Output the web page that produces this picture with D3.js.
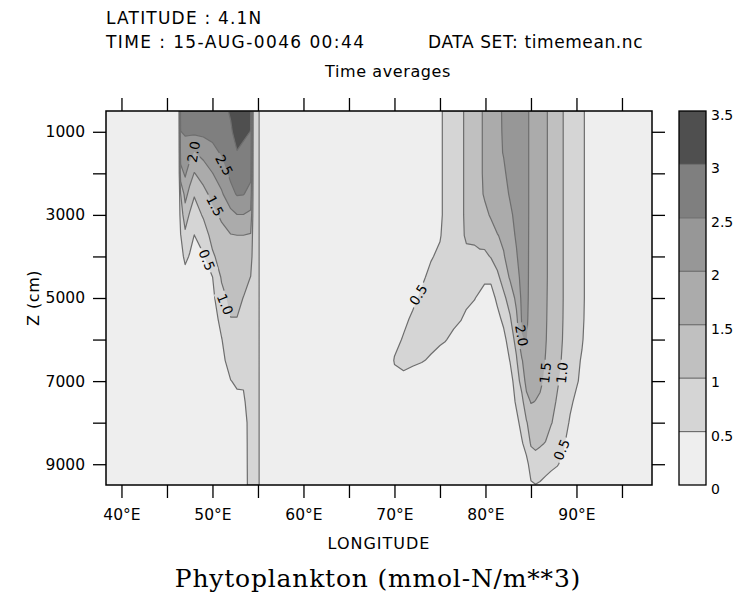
<!DOCTYPE html>
<html>
<head>
<meta charset="utf-8">
<script src="https://cdn.jsdelivr.net/npm/d3@7"></script>
<style>
  body { margin: 0; background: #ffffff; }
  svg text { fill: #000; }
  .sans { font-family: "DejaVu Sans", "Liberation Sans", sans-serif; }
  .serif { font-family: "DejaVu Serif", "Liberation Serif", serif; }
</style>
</head>
<body>
<svg id="chart" width="742" height="596"></svg>
<script>
// ---- data: time-mean phytoplankton section along 4.1N (mmol-N/m**3) ----
const depthLevels = [500,1000,1500,2000,2500,3000,3500,4000,4500,5000,5500,6000,6500,7000,7500,8000,8500,9000,9500];

// western basin columns (longitude, then one value per depth level)
const westLons = [46.5, 47.0, 47.5, 48.0, 49.0, 50.0, 51.0, 52.0, 52.7, 53.4, 54.2, 54.5, 55.05];
const westValues = [
  [2.75,2.49,2.22,1.83,0.99,0.75,0.48,0.30,0.20,0.15,0.12,0.10,0.10,0.10,0.10,0.10,0.10,0.10,0.10],
  [2.80,2.55,2.31,2.07,1.68,1.25,0.89,0.63,0.30,0.15,0.10,0.10,0.10,0.10,0.10,0.10,0.10,0.10,0.10],
  [2.80,2.57,2.18,1.75,1.33,0.95,0.70,0.46,0.25,0.15,0.10,0.10,0.10,0.10,0.10,0.10,0.10,0.10,0.10],
  [2.85,2.59,1.98,1.48,1.04,0.75,0.49,0.34,0.20,0.15,0.10,0.10,0.10,0.10,0.10,0.10,0.10,0.10,0.10],
  [2.85,2.61,2.17,1.71,1.35,1.06,0.73,0.46,0.33,0.20,0.15,0.10,0.10,0.10,0.10,0.10,0.10,0.10,0.10],
  [2.90,2.65,2.36,1.99,1.64,1.38,1.17,0.92,0.49,0.38,0.25,0.20,0.15,0.10,0.10,0.10,0.10,0.10,0.10],
  [2.85,2.70,2.55,2.27,1.93,1.57,1.37,1.21,1.05,0.86,0.66,0.48,0.39,0.30,0.25,0.20,0.15,0.12,0.10],
  [3.05,2.94,2.77,2.61,2.35,1.85,1.47,1.35,1.23,1.12,0.99,0.83,0.67,0.49,0.40,0.30,0.27,0.23,0.20],
  [3.35,3.17,2.98,2.76,2.54,1.99,1.49,1.37,1.24,1.12,0.99,0.85,0.70,0.55,0.42,0.30,0.27,0.23,0.20],
  [3.30,3.09,2.89,2.70,2.52,1.99,1.49,1.33,1.17,0.99,0.89,0.78,0.67,0.56,0.42,0.25,0.23,0.22,0.20],
  [3.10,2.99,2.81,2.62,2.33,1.90,1.45,1.23,0.99,0.90,0.80,0.78,0.77,0.76,0.76,0.75,0.75,0.75,0.75],
  [0.75,0.75,0.75,0.75,0.75,0.75,0.75,0.75,0.75,0.75,0.75,0.75,0.75,0.75,0.75,0.75,0.75,0.75,0.75],
  [0.75,0.75,0.75,0.75,0.75,0.75,0.75,0.75,0.75,0.75,0.75,0.75,0.75,0.75,0.75,0.75,0.75,0.75,0.75]
];

// eastern basin columns
const eastLons = [70.0, 71.0, 72.0, 73.0, 74.0, 75.0, 75.6, 76.5, 77.3, 77.9, 78.8, 79.4, 79.9, 80.6, 81.3,
                  82.0, 82.7, 83.4, 84.0, 84.5, 85.0, 85.5, 86.0, 86.6, 87.2, 87.9, 88.6, 89.3, 90.0, 90.6, 91.2];
const eastValues = [
  [0.10,0.10,0.10,0.10,0.10,0.10,0.10,0.10,0.10,0.10,0.10,0.30,0.55,0.30,0.10,0.10,0.10,0.10,0.10],
  [0.10,0.10,0.10,0.10,0.10,0.10,0.10,0.10,0.10,0.10,0.35,0.56,0.60,0.40,0.20,0.10,0.10,0.10,0.10],
  [0.10,0.10,0.10,0.10,0.10,0.10,0.10,0.10,0.10,0.35,0.60,0.62,0.58,0.30,0.15,0.10,0.10,0.10,0.10],
  [0.15,0.15,0.15,0.15,0.15,0.15,0.15,0.15,0.40,0.62,0.65,0.63,0.53,0.25,0.12,0.10,0.10,0.10,0.10],
  [0.20,0.20,0.20,0.20,0.20,0.20,0.30,0.45,0.65,0.68,0.68,0.62,0.45,0.20,0.12,0.10,0.10,0.10,0.10],
  [0.35,0.35,0.35,0.35,0.35,0.35,0.45,0.62,0.70,0.70,0.68,0.58,0.30,0.15,0.10,0.10,0.10,0.10,0.10],
  [0.70,0.70,0.70,0.70,0.70,0.70,0.72,0.75,0.75,0.72,0.66,0.52,0.30,0.15,0.10,0.10,0.10,0.10,0.10],
  [0.80,0.80,0.80,0.80,0.80,0.80,0.85,0.85,0.82,0.75,0.60,0.40,0.20,0.15,0.10,0.10,0.10,0.10,0.10],
  [0.90,0.90,0.90,0.90,0.90,0.90,0.92,0.88,0.82,0.70,0.52,0.30,0.15,0.10,0.10,0.10,0.10,0.10,0.10],
  [1.10,1.10,1.10,1.10,1.10,1.10,1.05,0.92,0.80,0.62,0.40,0.20,0.12,0.10,0.10,0.10,0.10,0.10,0.10],
  [1.30,1.30,1.30,1.30,1.30,1.25,1.10,0.88,0.70,0.52,0.30,0.15,0.10,0.10,0.10,0.10,0.10,0.10,0.10],
  [1.40,1.40,1.40,1.40,1.40,1.30,1.15,0.92,0.70,0.40,0.20,0.12,0.10,0.10,0.10,0.10,0.10,0.10,0.10],
  [1.60,1.60,1.60,1.60,1.55,1.38,1.20,0.90,0.60,0.30,0.15,0.10,0.10,0.10,0.10,0.10,0.10,0.10,0.10],
  [1.75,1.75,1.75,1.75,1.70,1.55,1.30,1.03,0.60,0.30,0.20,0.12,0.10,0.10,0.10,0.10,0.10,0.10,0.10],
  [1.90,1.90,1.90,1.90,1.82,1.68,1.48,1.20,0.90,0.60,0.35,0.20,0.12,0.10,0.10,0.10,0.10,0.10,0.10],
  [2.05,2.04,2.02,1.94,1.82,1.70,1.58,1.47,1.20,0.90,0.62,0.35,0.20,0.12,0.10,0.10,0.10,0.10,0.10],
  [2.20,2.20,2.20,2.12,2.05,1.90,1.80,1.68,1.56,1.20,0.95,0.75,0.52,0.30,0.20,0.12,0.10,0.10,0.10],
  [2.30,2.30,2.30,2.30,2.25,2.15,2.06,1.95,1.80,1.62,1.40,1.15,0.95,0.75,0.58,0.35,0.20,0.12,0.10],
  [2.35,2.35,2.35,2.35,2.35,2.35,2.30,2.25,2.17,2.10,2.05,1.98,1.45,1.20,0.85,0.68,0.45,0.25,0.15],
  [2.15,2.15,2.15,2.15,2.15,2.15,2.14,2.13,2.12,2.10,2.07,2.02,1.85,1.65,1.35,0.95,0.70,0.35,0.20],
  [1.85,1.85,1.85,1.85,1.85,1.85,1.85,1.85,1.85,1.85,1.84,1.82,1.75,1.65,1.52,1.25,1.05,0.70,0.45],
  [1.75,1.75,1.75,1.75,1.75,1.75,1.75,1.75,1.75,1.75,1.74,1.73,1.70,1.62,1.49,1.35,1.10,0.80,0.49],
  [1.65,1.65,1.65,1.65,1.65,1.65,1.65,1.65,1.65,1.65,1.64,1.62,1.60,1.56,1.45,1.30,1.05,0.75,0.45],
  [1.55,1.55,1.55,1.55,1.55,1.55,1.55,1.55,1.55,1.54,1.53,1.52,1.49,1.44,1.35,1.20,0.98,0.70,0.35],
  [1.40,1.40,1.40,1.40,1.40,1.40,1.40,1.40,1.40,1.40,1.40,1.38,1.35,1.28,1.15,1.03,0.80,0.60,0.30],
  [1.22,1.22,1.22,1.22,1.22,1.22,1.22,1.22,1.22,1.22,1.22,1.20,1.15,1.05,0.95,0.85,0.70,0.52,0.30],
  [0.98,0.98,0.98,0.98,0.98,0.98,0.98,0.98,0.98,0.98,0.97,0.95,0.90,0.85,0.78,0.70,0.55,0.42,0.25],
  [0.85,0.85,0.85,0.85,0.85,0.85,0.85,0.85,0.85,0.85,0.84,0.82,0.76,0.68,0.58,0.45,0.30,0.20,0.15],
  [0.75,0.75,0.75,0.75,0.75,0.75,0.75,0.75,0.75,0.75,0.73,0.68,0.62,0.55,0.40,0.25,0.15,0.10,0.10],
  [0.62,0.62,0.62,0.62,0.62,0.62,0.62,0.62,0.62,0.62,0.60,0.55,0.45,0.40,0.25,0.15,0.10,0.10,0.10],
  [0.35,0.35,0.35,0.35,0.35,0.35,0.35,0.35,0.35,0.35,0.33,0.30,0.25,0.20,0.15,0.10,0.10,0.10,0.10]
];

// open-ocean longitudes between and around the two regions, with their background value
const backgroundLons = [38.3, 46.3, 55.25, 69.3, 91.8, 98.3];
const backgroundValue = 0.1;

const contourLevels = [0.5, 1.0, 1.5, 2.0, 2.5, 3.0];
const colorbarLevels = [0, 0.5, 1, 1.5, 2, 2.5, 3, 3.5];
const bandColors = ["#eeeeee", "#d5d5d5", "#c0c0c0", "#ababab", "#979797", "#7f7f7f", "#4f4f4f"];

const lonTicks = [40, 45, 50, 55, 60, 65, 70, 75, 80, 85, 90, 95];
const lonLabels = [40, 50, 60, 70, 80, 90];
const depthTicks = [1000, 2000, 3000, 4000, 5000, 6000, 7000, 8000, 9000];
const depthLabels = [1000, 3000, 5000, 7000, 9000];

// contour annotations: level, where it sits (lon, depth) and its text angle
const contourLabelLevels = [2.0, 2.5, 1.5, 0.5, 1.0, 0.5, 2.0, 1.5, 1.0, 0.5];
const contourLabelLons   = [47.9, 51.3, 50.3, 49.4, 51.4, 72.6, 84.0, 86.55, 88.4, 88.35];
const contourLabelDepths = [1480, 1800, 2780, 4080, 5150, 4920, 5900, 6800, 6800, 8650];
const contourLabelAngles = [-80, 62, 62, 68, 68, -58, 80, -84, -84, -68];

// ---- layout ----
const svg = d3.select("#chart");
const x = d3.scaleLinear().domain([38.3, 98.3]).range([106, 652]);
const y = d3.scaleLinear().domain([500, 9500]).range([111, 485]);
const [x0, x1] = x.range(), [y0, y1] = y.range();

// assemble the grid (columns sorted by longitude)
const cols = [];
westLons.forEach((lon, i) => cols.push({lon, vals: westValues[i]}));
eastLons.forEach((lon, i) => cols.push({lon, vals: eastValues[i]}));
backgroundLons.forEach(lon => cols.push({lon, vals: depthLevels.map(() => backgroundValue)}));
cols.sort((a, b) => a.lon - b.lon);
const lonNodes = cols.map(c => c.lon);
const nx = lonNodes.length, ny = depthLevels.length;
const grid = new Array(nx * ny);
for (let j = 0; j < ny; j++) for (let i = 0; i < nx; i++) grid[j * nx + i] = cols[i].vals[j];

function nodeAt(nodes, t) {
  t = Math.max(0, Math.min(nodes.length - 1, t));
  const i = Math.min(Math.floor(t), nodes.length - 2);
  return nodes[i] + (nodes[i + 1] - nodes[i]) * (t - i);
}
const toScreen = d3.geoTransform({
  point(u, v) {
    this.stream.point(x(nodeAt(lonNodes, u - 0.5)), y(nodeAt(depthLevels, v - 0.5)));
  }
});
const path = d3.geoPath(toScreen);
const contours = d3.contours().size([nx, ny]).thresholds(contourLevels)(grid);

const defs = svg.append("defs");
defs.append("clipPath").attr("id", "plotClip")
  .append("rect").attr("x", x0).attr("y", y0).attr("width", x1 - x0).attr("height", y1 - y0);

// label mask so contour lines break around their labels
const fmt = d3.format(".1f");
const mask = defs.append("mask").attr("id", "labelMask").attr("maskUnits", "userSpaceOnUse")
  .attr("x", 0).attr("y", 0).attr("width", 742).attr("height", 596);
mask.append("rect").attr("width", 742).attr("height", 596).attr("fill", "#fff");
contourLabelLevels.forEach((lev, i) => {
  mask.append("rect")
    .attr("x", -13).attr("y", -7).attr("width", 26).attr("height", 14).attr("fill", "#000")
    .attr("transform", `translate(${x(contourLabelLons[i])},${y(contourLabelDepths[i])}) rotate(${contourLabelAngles[i]})`);
});

const plot = svg.append("g").attr("clip-path", "url(#plotClip)");
plot.append("rect").attr("x", x0).attr("y", y0).attr("width", x1 - x0).attr("height", y1 - y0)
  .attr("fill", bandColors[0]);
plot.selectAll("path.band").data(contours).join("path")
  .attr("class", "band")
  .attr("d", d => path(d))
  .attr("fill", (d, i) => bandColors[i + 1])
  .attr("fill-rule", "evenodd");
plot.append("g").attr("mask", "url(#labelMask)")
  .selectAll("path").data(contours).join("path")
  .attr("d", d => path(d))
  .attr("fill", "none")
  .attr("stroke", "#6e6e6e")
  .attr("stroke-width", 1.2)
  .attr("stroke-linejoin", "round");

plot.selectAll("text.clab").data(contourLabelLevels).join("text")
  .attr("class", "clab sans")
  .attr("transform", (d, i) => `translate(${x(contourLabelLons[i])},${y(contourLabelDepths[i])}) rotate(${contourLabelAngles[i]})`)
  .attr("text-anchor", "middle").attr("dominant-baseline", "central")
  .attr("font-size", 13.5)
  .text(d => fmt(d));

// frame
svg.append("rect").attr("x", x0).attr("y", y0).attr("width", x1 - x0).attr("height", y1 - y0)
  .attr("fill", "none").attr("stroke", "#000").attr("stroke-width", 1.5);

// axes
function styleAxis(g) {
  g.select(".domain").remove();
  g.selectAll(".tick line").attr("stroke", "#000").attr("stroke-width", 1.3);
  g.selectAll(".tick text").attr("class", "sans").attr("font-size", 15.5).attr("fill", "#000");
}
svg.append("g").attr("transform", `translate(0,${y1})`)
  .call(d3.axisBottom(x).tickValues(lonTicks).tickSize(13).tickPadding(11)
    .tickFormat(d => lonLabels.includes(d) ? d + "°E" : ""))
  .call(styleAxis);
svg.append("g").attr("transform", `translate(0,${y0})`)
  .call(d3.axisTop(x).tickValues(lonTicks).tickSize(13).tickFormat(""))
  .call(styleAxis);
svg.append("g").attr("transform", `translate(${x0},0)`)
  .call(d3.axisLeft(y).tickValues(depthTicks).tickSize(13).tickPadding(8)
    .tickFormat(d => depthLabels.includes(d) ? String(d) : ""))
  .call(styleAxis);
svg.append("g").attr("transform", `translate(${x1},0)`)
  .call(d3.axisRight(y).tickValues(depthTicks).tickSize(13).tickFormat(""))
  .call(styleAxis);

// axis titles and headings
const head = svg.append("g").attr("class", "sans");
head.append("text").attr("x", (x0 + x1) / 2).attr("y", 549).attr("text-anchor", "middle")
  .attr("font-size", 16).attr("letter-spacing", 1).text("LONGITUDE");
head.append("text").attr("transform", `translate(39,${(y0 + y1) / 2}) rotate(-90)`)
  .attr("text-anchor", "middle").attr("font-size", 16).attr("letter-spacing", 0.5).text("Z (cm)");
head.append("text").attr("x", 106).attr("y", 24).attr("font-size", 17).attr("letter-spacing", 1.2)
  .text("LATITUDE : 4.1N");
head.append("text").attr("x", 106).attr("y", 48).attr("font-size", 17).attr("letter-spacing", 1.4)
  .text("TIME : 15-AUG-0046 00:44");
head.append("text").attr("x", 428).attr("y", 48).attr("font-size", 17).attr("letter-spacing", 0.6)
  .text("DATA SET: timemean.nc");
head.append("text").attr("x", 388).attr("y", 77).attr("text-anchor", "middle")
  .attr("font-size", 16).attr("letter-spacing", 0.6).text("Time averages");
svg.append("text").attr("class", "serif").attr("x", 378).attr("y", 587).attr("text-anchor", "middle")
  .attr("font-size", 25).attr("letter-spacing", 0.8)
  .text("Phytoplankton (mmol-N/m**3)");

// colour key
const cb = d3.scaleLinear().domain([0, 3.5]).range([y1, y0]);
const key = svg.append("g");
d3.pairs(colorbarLevels).forEach(([a, b], i) => {
  key.append("rect").attr("x", 679).attr("y", cb(b)).attr("width", 27).attr("height", cb(a) - cb(b))
    .attr("fill", bandColors[i]);
});
contourLevels.forEach(l => {
  key.append("line").attr("x1", 679).attr("x2", 706).attr("y1", cb(l)).attr("y2", cb(l))
    .attr("stroke", "#6e6e6e").attr("stroke-width", 1.2);
});
key.append("rect").attr("x", 679).attr("y", y0).attr("width", 27).attr("height", y1 - y0)
  .attr("fill", "none").attr("stroke", "#000").attr("stroke-width", 1.3);
key.selectAll("text").data(colorbarLevels).join("text")
  .attr("class", "sans")
  .attr("x", 711).attr("y", d => cb(d) + 4).attr("dominant-baseline", "central")
  .attr("font-size", 14).text(d => String(d));
</script>
</body>
</html>
